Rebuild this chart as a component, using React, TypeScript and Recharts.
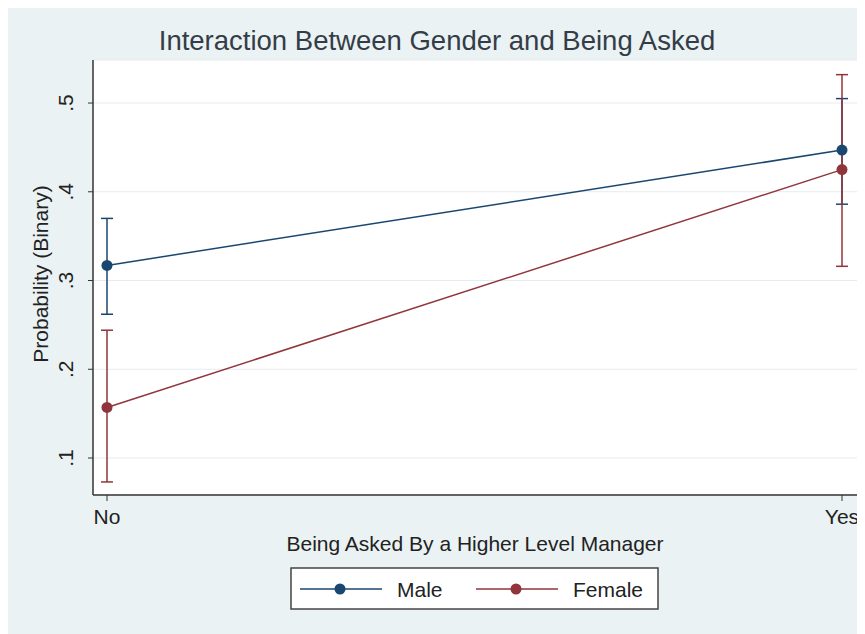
import { LineChart, Line, XAxis, YAxis, CartesianGrid, ErrorBar } from 'recharts';

// predicted probabilities with 95% CIs, by gender
const categories = ['No', 'Yes'];
const maleProb = [0.317, 0.447];
const maleLow = [0.262, 0.386];
const maleHigh = [0.37, 0.505];
const femaleProb = [0.157, 0.425];
const femaleLow = [0.073, 0.316];
const femaleHigh = [0.244, 0.532];
const yTicks = [0.1, 0.2, 0.3, 0.4, 0.5];
const yTickLabels = ['.1', '.2', '.3', '.4', '.5'];

const MALE = '#1a476f';
const FEMALE = '#90353b';
const BG = '#eaf2f3';
const FONT = '"Liberation Sans", Arial, Helvetica, sans-serif';

const data = categories.map((c, i) => ({
  asked: c,
  male: maleProb[i],
  maleErr: [maleProb[i] - maleLow[i], maleHigh[i] - maleProb[i]],
  female: femaleProb[i],
  femaleErr: [femaleProb[i] - femaleLow[i], femaleHigh[i] - femaleProb[i]],
}));

const series = [
  { key: 'male', name: 'Male', color: MALE },
  { key: 'female', name: 'Female', color: FEMALE },
];

const W = 858;
const H = 629;

function YTick(props: any) {
  const { x, y, payload } = props;
  const label = yTickLabels[yTicks.indexOf(payload.value)] ?? String(payload.value);
  return (
    <text
      x={x}
      y={y}
      transform={`rotate(-90 ${x} ${y})`}
      textAnchor="middle"
      fontFamily={FONT}
      fontSize={21}
      fill="#222"
    >
      {label}
    </text>
  );
}

function XTick(props: any) {
  const { x, y, payload } = props;
  return (
    <text x={x} y={y} textAnchor="middle" fontFamily={FONT} fontSize={21} fill="#222">
      {payload.value}
    </text>
  );
}

export default function App() {
  return (
    <div style={{ position: 'relative', top: -3, left: -1, width: W, height: H, background: BG }}>
      <LineChart width={W} height={H} data={data} margin={{ top: 55, right: 8, bottom: 0, left: 0 }}>
        <CartesianGrid vertical={false} stroke="#e4ecef" strokeWidth={1} fill="#ffffff" />
        <XAxis
          dataKey="asked"
          height={139}
          padding={{ left: 14, right: 15 }}
          axisLine={{ stroke: '#333', strokeWidth: 1.5 }}
          tickLine={{ stroke: '#333', strokeWidth: 1 }}
          tickSize={6}
          tickMargin={23}
          tick={<XTick />}
          label={{
            content: () => (
              <text x={468} y={546} textAnchor="middle" fontFamily={FONT} fontSize={21} fill="#222">
                Being Asked By a Higher Level Manager
              </text>
            ),
          }}
        />
        <YAxis
          type="number"
          width={86}
          domain={[0.0583, 0.5485]}
          ticks={yTicks}
          axisLine={{ stroke: '#333', strokeWidth: 1.5 }}
          tickLine={{ stroke: '#333', strokeWidth: 1 }}
          tickSize={5}
          tickMargin={15}
          tick={<YTick />}
          label={{
            content: () => (
              <text
                x={41}
                y={269}
                transform="rotate(-90 41 269)"
                textAnchor="middle"
                fontFamily={FONT}
                fontSize={21}
                fill="#222"
              >
                Probability (Binary)
              </text>
            ),
          }}
        />
        {/* confidence intervals go underneath both connected lines */}
        {series.map((s) => (
          <Line
            key={`${s.key}-ci`}
            dataKey={s.key}
            stroke="none"
            dot={false}
            activeDot={false}
            legendType="none"
            isAnimationActive={false}
          >
            <ErrorBar
              dataKey={`${s.key}Err`}
              direction="y"
              width={6}
              stroke={s.color}
              strokeWidth={1.5}
              isAnimationActive={false}
            />
          </Line>
        ))}
        {series.map((s) => (
          <Line
            key={s.key}
            dataKey={s.key}
            name={s.name}
            stroke={s.color}
            strokeWidth={1.5}
            dot={{ r: 5.5, fill: s.color, stroke: s.color, strokeWidth: 0 }}
            activeDot={false}
            isAnimationActive={false}
          />
        ))}
      </LineChart>
      <svg
        width={W}
        height={H}
        style={{ position: 'absolute', left: 0, top: 0, pointerEvents: 'none' }}
      >
        <text x={430} y={45} textAnchor="middle" fontFamily={FONT} fontSize={27.5} fill="#343d47">
          Interaction Between Gender and Being Asked
        </text>
        <g transform="translate(284 563)">
          <rect x={0} y={0} width={367} height={41} fill="#fff" stroke="#444" strokeWidth={1.5} />
          {series.map((s, i) => {
            const x0 = 9 + i * 176;
            return (
              <g key={s.key}>
                <line x1={x0} y1={21} x2={x0 + 82} y2={21} stroke={s.color} strokeWidth={1.5} />
                <circle cx={x0 + 40} cy={21} r={5.5} fill={s.color} />
                <text x={x0 + 97} y={28.5} fontFamily={FONT} fontSize={21} fill="#222">
                  {s.name}
                </text>
              </g>
            );
          })}
        </g>
      </svg>
    </div>
  );
}
